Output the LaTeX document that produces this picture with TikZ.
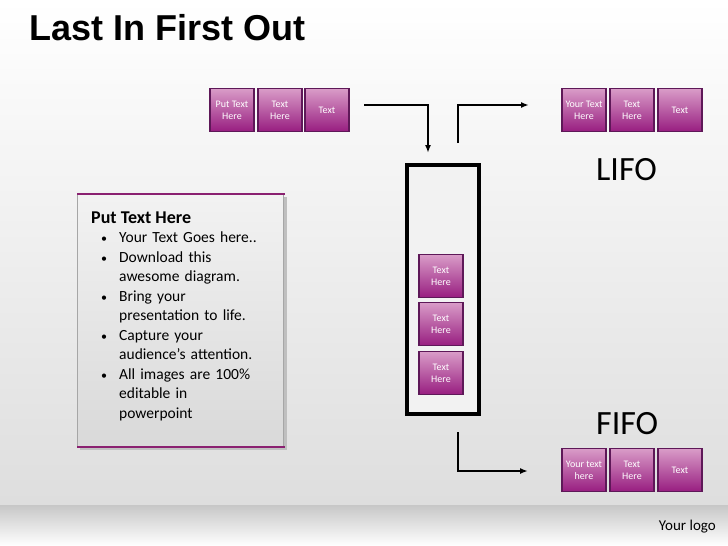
\documentclass[tikz,border=0pt]{standalone}
\usepackage{fontspec}
\setmainfont{Carlito}
\newfontfamily\arialfont{Liberation Sans}
\usetikzlibrary{arrows.meta}
\definecolor{pTop}{HTML}{D99CC8}
\definecolor{pBot}{HTML}{981E80}
\definecolor{pEdge}{HTML}{5E1858}
\definecolor{panelLine}{HTML}{8A2070}
\tikzset{
  pbox/.style={draw=pEdge, line width=1.6pt, top color=pTop, bottom color=pBot,
    minimum width=44pt, minimum height=43pt, inner sep=1pt, text=white,
    align=center, font=\fontsize{10}{12}\selectfont},
  flow/.style={line width=1.6pt, -{Latex[length=8pt,width=6pt]}},
  bul/.style={}
}
\newcommand{\bitem}{\makebox[20pt][l]{\hspace*{2pt}{\fontsize{12}{12}\selectfont\textbullet}}}
\begin{document}
\begin{tikzpicture}[x=1pt,y=-1pt]
\useasboundingbox (0,0) rectangle (728,546);
% background
\shade[top color=white, bottom color=black!13] (0,0) rectangle (728,505);
\shade[top color=black!22, bottom color=white] (0,505) rectangle (728,546);
% title
\node[anchor=west, font=\arialfont\bfseries\fontsize{36}{40}\selectfont, inner sep=0] (title) at (29,28) {Last In First Out};
% top-left boxes
\node[pbox] (a1) at (232,110) {Put Text\\Here};
\node[pbox] (a2) at (280,110) {Text\\Here};
\node[pbox] (a3) at (327,110) {Text};
% top-right boxes
\node[pbox] (b1) at (584,110) {Your Text\\Here};
\node[pbox] (b2) at (632,110) {Text\\Here};
\node[pbox] (b3) at (680,110) {Text};
% bottom-right boxes
\node[pbox] (c1) at (584,470) {Your text\\here};
\node[pbox] (c2) at (632,470) {Text\\Here};
\node[pbox] (c3) at (680,470) {Text};
% stack container
\node[draw=black, line width=4pt, fill=white!95!black, minimum width=72pt, minimum height=249pt, inner sep=0] (stack) at (443,289.5) {};
\node[pbox] (s1) at (441,276) {Text\\Here};
\node[pbox] (s2) at (441,324) {Text\\Here};
\node[pbox] (s3) at (441,373) {Text\\Here};
% labels
\node[font=\fontsize{34}{38}\selectfont, anchor=west, inner sep=0] (lifo) at (596,170) {LIFO};
\node[font=\fontsize{34}{38}\selectfont, anchor=west, inner sep=0] (fifo) at (596,424) {FIFO};
% arrows
\coordinate (p1) at (364,105);
\coordinate (p2) at (428,105);
\coordinate (p3) at (428,153);
\draw[flow] (p1) -- (p2) -- (p3);
\coordinate (q1) at (458,143);
\coordinate (q2) at (458,105);
\coordinate (q3) at (529,105);
\draw[flow] (q1) -- (q2) -- (q3);
\coordinate (r1) at (458,432);
\coordinate (r2) at (458,471);
\coordinate (r3) at (528,471);
\draw[flow] (r1) -- (r2) -- (r3);
% left panel
\fill[black!25] (80,197) rectangle (287,450);
\shade[top color=black!5, bottom color=black!15, draw=black!35, line width=0.8pt] (77,194) rectangle (283,447);
\draw[panelLine, line width=2.5pt] (77,194) -- (285,194);
\draw[panelLine, line width=2.5pt] (77,447) -- (285,447);
\node[anchor=west, font=\bfseries\fontsize{18}{20}\selectfont, inner sep=0] (ph) at (91,218) {Put Text Here};
\node[anchor=north west, inner sep=0, text width=180pt, align=left, font=\fontsize{15.5}{19.5}\selectfont] (pl) at (99,232) {%
\bitem Your Text Goes here..\\
\bitem Download this\\
\hspace*{20pt}awesome diagram.\\
\bitem Bring your\\
\hspace*{20pt}presentation to life.\\
\bitem Capture your\\
\hspace*{20pt}audience’s attention.\\
\bitem All images are 100\%\\
\hspace*{20pt}editable in\\
\hspace*{20pt}powerpoint};
% logo
\node[anchor=east, font=\fontsize{15}{17}\selectfont, inner sep=0] (logo) at (716,527) {Your logo};
\end{tikzpicture}
\end{document}
